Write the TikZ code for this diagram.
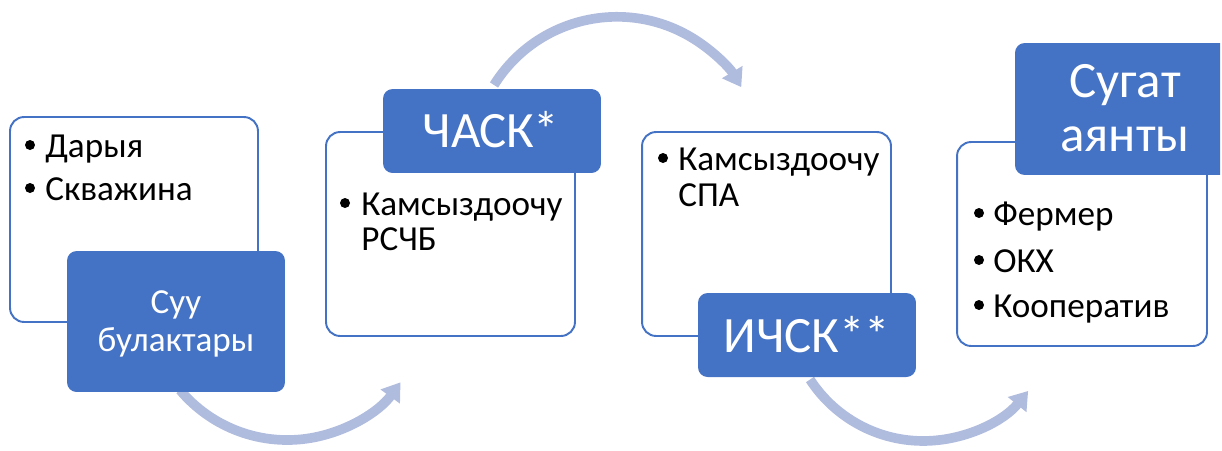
\documentclass[tikz,border=0pt]{standalone}
\usepackage{fontspec}
\setmainfont{Carlito}
\usetikzlibrary{arrows.meta}
\definecolor{accent}{HTML}{4472C4}
\definecolor{arrowc}{HTML}{B0BCDE}
\begin{document}
\begin{tikzpicture}[x=0.02cm,y=-0.02cm,
 whitebox/.style={draw=accent, line width=1.1pt, fill=white, rounded corners=8pt, minimum width=4.98cm, minimum height=4.08cm, inner sep=0pt},
 bluebox/.style={fill=accent, rounded corners=5.5pt, minimum width=4.36cm, inner sep=0pt},
 btxt/.style={font=\fontsize{20}{24}\selectfont, text=black, inner sep=0pt, anchor=base west},
 bul/.style={circle, fill=black, minimum size=0.2cm, inner sep=0pt},
 ttl/.style={font=\fontsize{29}{35}\selectfont, text=white, inner sep=0pt, anchor=base},
 stl/.style={font=\fontsize{20}{24}\selectfont, text=white, inner sep=0pt, anchor=base},
 flow/.style={draw=arrowc, line width=5.5pt, -{Triangle[length=10pt,width=13pt]}}]
\useasboundingbox (0,0) rectangle (1222,450);
\clip (0,0) rectangle (1220,450);
% curved arrows
\coordinate (f1s) at (180,390);
\coordinate (f2s) at (494,85);
\coordinate (f3s) at (810,379.5);
\draw[flow] (f1s) arc[start angle=140, end angle=36, radius=140];
\draw[flow] (f2s) arc[start angle=-148, end angle=-31, radius=145];
\draw[flow] (f3s) arc[start angle=147, end angle=39, radius=135];
% white boxes
\node[whitebox, minimum width=4.96cm, minimum height=4.1cm] (w1) at (134,219.5) {};
\node[whitebox] (w2) at (450.5,234) {};
\node[whitebox] (w3) at (766.5,234) {};
\node[whitebox, minimum width=5cm] (w4) at (1082,244) {};
% blue boxes
\node[bluebox, minimum height=2.82cm] (b1) at (176,321.5) {};
\node[bluebox, minimum height=1.68cm] (b2) at (492,131) {};
\node[bluebox, minimum height=1.68cm] (b3) at (807,335) {};
\node[bluebox, minimum height=2.64cm] (b4) at (1124,109) {};
% titles
\node[stl] (t1a) at (176,313) {Суу};
\node[stl] (t1b) at (176,351) {булактары};
\node[ttl] (t2) at (491,147) {ЧАСК*};
\node[ttl] (t3) at (807,352) {ИЧСК**};
\node[ttl] (t4a) at (1125,97) {Сугат};
\node[ttl] (t4b) at (1125,151) {аянты};
% box 1 items
\node[bul] (p1a) at (30,145) {};
\node[btxt] (i1a) at (45,157) {Дарыя};
\node[bul] (p1b) at (30,188) {};
\node[btxt] (i1b) at (45,200) {Скважина};
% box 2 items
\node[bul] (p2a) at (345,203) {};
\node[btxt] (i2a) at (361,215) {Камсыздоочу};
\node[btxt] (i2b) at (361,250) {РСЧБ};
% box 3 items
\node[bul] (p3a) at (663,158) {};
\node[btxt] (i3a) at (678,170) {Камсыздоочу};
\node[btxt] (i3b) at (678,206) {СПА};
% box 4 items
\node[bul] (p4a) at (979,213) {};
\node[btxt] (i4a) at (993,225) {Фермер};
\node[bul] (p4b) at (979,260) {};
\node[btxt] (i4b) at (993,272) {ОКХ};
\node[bul] (p4c) at (979,305) {};
\node[btxt] (i4c) at (993,317) {Кооператив};
\end{tikzpicture}
\end{document}
